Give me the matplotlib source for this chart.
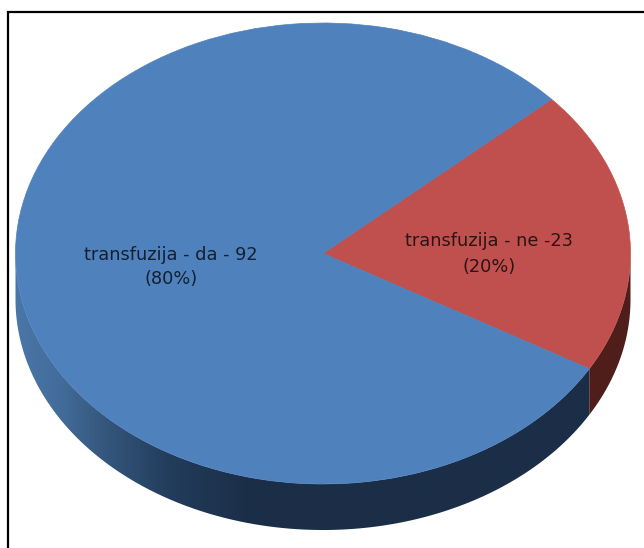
import numpy as np
import matplotlib
matplotlib.use("Agg")
import matplotlib.pyplot as plt
from matplotlib.colors import to_rgb
from matplotlib.patches import Polygon
from matplotlib.transforms import Affine2D

categories = ["transfuzija - da - 92\n(80%)", "transfuzija - ne -23\n(20%)"]
values = [92, 23]
top_colors = ["#4f81bd", "#c0504d"]
side_red = "#4f1d1a"
side_blue_stops = ["#4a77a8", "#426c9a", "#36597f", "#223c5c", "#1b2e47", "#1b2e47"]
W, H = 644, 548
cx, cy, a, b, depth = 323.0, 253.5, 307.5, 230.5, 46.0
start_angle = -30.0

fig = plt.figure(figsize=(W / 100, H / 100), dpi=100, facecolor="white")
ax = fig.add_axes([0, 0, 1, 1])

# Slice boundary from the data
sweep = 360.0 * values[1] / sum(values)
boundary = 360.0 + start_angle


def wall(t0, t1, n=300):
    t = np.radians(np.linspace(t0, t1, n))
    x = cx + a * np.cos(t)
    y = cy - b * np.sin(t)
    return np.column_stack([np.r_[x, x[::-1]], np.r_[y, y[::-1] + depth]])


# Side wall: horizontal gradient for the large slice, flat dark for the small one
stop_x = [16, 60, 100, 170, 250, 631]
rgb = np.array([to_rgb(c) for c in side_blue_stops])
xs = np.arange(W + 1)
grad = np.stack([np.interp(xs, stop_x, rgb[:, i]) for i in range(3)], axis=-1)[None, :, :]
im = ax.imshow(grad, extent=(0, W, H, 0), aspect="auto", interpolation="bilinear", zorder=1)
clip = Polygon(wall(180, boundary), closed=True, transform=ax.transData)
im.set_clip_path(clip)
ax.add_patch(Polygon(wall(boundary, 360), closed=True, facecolor=side_red, lw=0, zorder=1))

# Top face: a pie on the unit circle, mapped to the ellipse
tr = Affine2D().scale(a, -b).translate(cx, cy) + ax.transData
wedges, _ = ax.pie(values[::-1], startangle=start_angle, colors=top_colors[::-1], radius=1.0,
                   wedgeprops=dict(lw=0, transform=tr, zorder=2))
for w, c in zip(wedges, top_colors[::-1]):
    w.set_edgecolor(c)
    w.set_linewidth(0.5)
ax.set_aspect("auto")
ax.set_xlim(0, W)
ax.set_ylim(H, 0)
ax.set_axis_off()

ax.text(171, 267, categories[0], ha="center", va="center", fontsize=12.8, color="#14202f",
        family="DejaVu Sans", linespacing=1.5, zorder=3)
ax.text(489, 254, categories[1], ha="center", va="center", fontsize=12.8, color="#2b1414",
        family="DejaVu Sans", linespacing=1.5, zorder=3)

# Frame
ax.plot([8.5, 8.5, W], [H, 11.5, 11.5], color="black", lw=1.6, zorder=4, solid_joinstyle="miter")

fig.savefig("out.png", dpi=100, facecolor="white")
